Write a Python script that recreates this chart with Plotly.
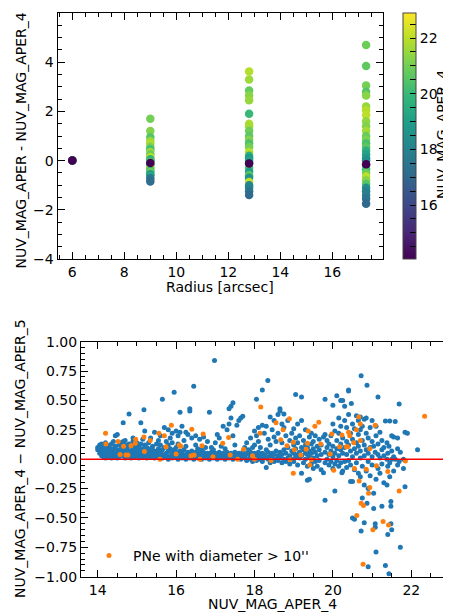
import plotly.graph_objects as go

FONT = "DejaVu Sans"
FS = 14

# ---------------- top panel data ----------------
radii = [6.0, 9.0, 12.8, 17.3]

col6_dy = [0.0, 0.0, 0.0, 0.0, 0.0, 0.0]
col6_mag = [22.9, 21.0, 20.0, 18.5, 17.0, 14.06]

col9_dy = [-0.79, 1.70, 1.20, 0.95, 0.80, 0.70, 0.55, 0.45, 0.35, 0.25, 0.15, 0.05, 0.00,
           -0.05, -0.15, -0.25, -0.30, -0.40, -0.45, -0.55, -0.60, -0.72, -0.85, -0.10]
col9_mag = [22.9, 21.0, 21.2, 20.5, 21.5, 21.8, 21.0, 20.2, 21.6, 20.8, 21.9, 20.0, 19.5,
            20.6, 19.0, 20.3, 21.7, 19.8, 20.9, 18.5, 19.3, 17.5, 17.2, 14.06]

col12_dy = [3.62, 3.30, 2.85, 2.65, 2.45, 1.90, 1.50, 1.40, 1.20, 1.00, 0.85, 0.70, 0.55,
            0.35, 0.20, 0.10, 0.00, -0.10, -0.30, -0.45, -0.60, -0.70, -0.87, -1.00, -1.10,
            -1.25, -1.40, -0.12]
col12_mag = [21.9, 21.6, 20.8, 21.3, 21.5, 20.0, 21.8, 21.7, 20.9, 20.6, 21.2, 20.4, 21.0,
             21.9, 19.6, 18.8, 19.2, 18.3, 20.3, 19.0, 20.6, 18.6, 22.1, 18.2, 18.0,
             17.5, 17.1, 14.06]

col17_dy = [4.70, 3.85, 3.05, 2.80, 2.65, 2.20, 2.05, 1.85, 1.60, 1.40, 1.20, 1.00, 0.85,
            0.70, 0.55, 0.40, 0.25, 0.10, 0.00, -0.20, -0.35, -0.50, -0.65, -0.80, -0.95,
            -1.10, -1.25, -1.40, -1.55, -1.75, -0.15]
col17_mag = [20.9, 20.7, 21.0, 20.5, 21.3, 21.5, 21.9, 22.0, 21.4, 21.2, 21.7, 20.8, 21.1,
             20.3, 20.6, 19.6, 19.1, 18.8, 18.4, 19.9, 20.2, 20.9, 22.0, 21.3, 20.5,
             18.4, 18.0, 17.8, 17.4, 17.0, 14.06]

cbar_tickvals = [14.5, 15, 15.5, 16, 16.5, 17, 17.5, 18, 18.5, 19, 19.5, 20, 20.5, 21,
                 21.5, 22, 22.5]
cbar_ticktext = ["", "", "", "16", "", "", "", "18", "", "", "", "20", "", "", "", "22", ""]

# ---------------- bottom panel data ----------------
# rows: [NUV_MAG_APER_4, dmag values...]
blue_rows = [
    [14.00, 0.10, 0.08], [14.05, 0.05, 0.12, 0.09], [14.10, 0.03, 0.07, 0.13, 0.10],
    [14.15, 0.02, 0.06, 0.11], [14.20, 0.04, 0.09, 0.01, 0.14], [14.25, 0.03, 0.07, 0.12],
    [14.30, 0.02, 0.05, 0.10, 0.08], [14.35, 0.04, 0.13, 0.01], [14.40, 0.06, 0.09, 0.02, 0.15],
    [14.45, 0.03, 0.11, 0.20], [14.50, 0.05, 0.08, 0.01, 0.21], [14.55, 0.02, 0.12, 0.07],
    [14.60, 0.04, 0.09, 0.14], [14.65, 0.03, 0.06, 0.15, 0.31], [14.70, 0.01, 0.08, 0.12, 0.16],
    [14.75, 0.05, 0.10, 0.02], [14.80, 0.03, 0.07, 0.13, 0.385], [14.85, 0.06, 0.11, 0.01],
    [14.90, 0.04, 0.09, 0.15, 0.18], [14.95, 0.02, 0.07, 0.12, 0.16], [15.00, 0.03, 0.05, 0.10, 0.14],
    [15.05, 0.01, 0.08, 0.11], [15.10, 0.04, 0.06, 0.13, 0.31], [15.15, 0.02, 0.09, 0.17],
    [15.18, 0.42], [15.20, 0.03, 0.05, 0.12, 0.24], [15.25, 0.01, 0.07, 0.10],
    [15.30, 0.04, 0.09, 0.14], [15.35, 0.02, 0.06, 0.18], [15.40, 0.03, 0.08, 0.11],
    [15.45, 0.01, 0.05, 0.23], [15.50, 0.04, 0.07, 0.13], [15.55, 0.02, 0.09, 0.16],
    [15.60, 0.03, 0.06, 0.12, 0.20], [15.65, 0.01, 0.08, 0.51], [15.70, 0.04, 0.10, 0.27],
    [15.75, 0.02, 0.05, 0.15], [15.80, 0.00, 0.07, 0.12, 0.25], [15.85, 0.03, 0.09, 0.18],
    [15.90, 0.01, 0.05, 0.14, 0.22], [15.95, 0.02, 0.08, 0.57], [16.00, 0.03, 0.06, 0.10, 0.24],
    [16.05, 0.00, 0.04, 0.13, 0.20], [16.10, 0.02, 0.07, 0.23, 0.40], [16.15, 0.01, 0.05, 0.28],
    [16.20, 0.03, 0.08, 0.16], [16.25, 0.00, 0.04, 0.11, 0.23], [16.30, 0.02, 0.06, 0.21],
    [16.35, 0.01, 0.05, 0.43, 0.41], [16.40, 0.03, 0.07, 0.18], [16.45, 0.00, 0.04, 0.62],
    [16.50, 0.02, 0.06, 0.12, 0.20], [16.55, 0.01, 0.03, 0.09], [16.60, 0.02, 0.05, 0.17],
    [16.65, 0.00, 0.04, 0.08], [16.70, 0.02, 0.06, 0.19], [16.75, 0.01, 0.03, 0.10],
    [16.80, 0.02, 0.05, 0.15], [16.85, 0.00, 0.04, 0.40], [16.90, 0.02, 0.06, 0.10],
    [16.95, 0.01, 0.03, 0.08], [16.98, 0.84], [17.00, 0.02, 0.05, 0.14],
    [17.05, 0.00, 0.04, 0.21], [17.10, 0.02, 0.06, 0.18], [17.15, 0.01, 0.03, 0.11],
    [17.20, 0.02, 0.05, 0.28], [17.25, 0.00, 0.04, 0.09], [17.30, 0.02, 0.06, 0.25],
    [17.35, 0.01, 0.03, 0.43, 0.30], [17.40, 0.02, 0.05, 0.45, 0.35], [17.45, 0.00, 0.04, 0.48, 0.20],
    [17.50, 0.02, 0.06, 0.12], [17.55, 0.01, 0.03, 0.29], [17.60, 0.02, 0.05, 0.33],
    [17.65, 0.00, 0.04, 0.35], [17.70, 0.02, 0.06, 0.365], [17.75, 0.01, 0.03, 0.10],
    [17.80, -0.01, 0.05, 0.14], [17.85, 0.00, 0.04, 0.08], [17.90, 0.02, 0.06, 0.18],
    [17.95, -0.02, 0.03, 0.10], [18.00, 0.01, 0.05, 0.12, 0.24], [18.05, -0.01, 0.04, 0.51, 0.20],
    [18.10, 0.02, 0.06, 0.15, 0.27], [18.15, 0.00, 0.03, 0.10], [18.20, -0.02, 0.05, 0.59, 0.29],
    [18.25, 0.01, 0.04, 0.22], [18.30, -0.07, 0.02, 0.08, 0.28], [18.34, 0.67],
    [18.35, 0.00, 0.06, 0.17], [18.40, -0.03, 0.03, 0.12, 0.36], [18.45, 0.01, 0.05, 0.25],
    [18.50, -0.02, 0.04, 0.19, 0.33], [18.55, 0.00, 0.07, 0.15], [18.60, -0.01, 0.03, 0.22, 0.38],
    [18.65, 0.02, 0.06, 0.43, 0.41], [18.70, -0.03, 0.04, 0.14, 0.30], [18.75, 0.00, 0.08, 0.385, 0.27],
    [18.80, -0.02, 0.05, 0.20], [18.85, 0.01, 0.10, 0.33], [18.90, -0.04, 0.03, 0.16],
    [18.95, 0.00, 0.07, 0.22], [19.00, -0.02, 0.05, 0.12, 0.26], [19.05, 0.02, 0.09, 0.55, 0.18],
    [19.10, -0.05, 0.04, 0.14, 0.30], [19.15, 0.01, 0.06, 0.20], [19.20, -0.12, 0.03, 0.10, 0.53, 0.33],
    [19.25, -0.03, 0.08, 0.16], [19.30, 0.00, 0.05, 0.12, 0.25], [19.35, -0.18, -0.06, 0.04, 0.10],
    [19.40, -0.17, 0.02, 0.07, 0.19], [19.45, -0.04, 0.05, 0.13, 0.22], [19.50, -0.08, 0.01, 0.09, 0.15],
    [19.55, -0.02, 0.06, 0.20], [19.60, -0.06, 0.03, 0.11], [19.65, -0.01, 0.08, 0.17],
    [19.70, -0.09, 0.04, 0.12], [19.76, -0.115, 0.19], [19.80, -0.35, -0.03, 0.06, 0.21, 0.51],
    [19.85, 0.00, 0.10, 0.16], [19.90, -0.05, 0.04, 0.13], [19.95, -0.02, 0.07, 0.20],
    [20.00, -0.08, 0.02, 0.11, 0.46, 0.30], [20.05, -0.27, -0.04, 0.05, 0.24],
    [20.10, -0.01, 0.09, 0.16, 0.54], [20.15, -0.06, 0.03, 0.22, 0.35],
    [20.20, -0.03, 0.08, 0.13, 0.50, 0.28], [20.23, -0.115], [20.25, -0.10, 0.05, 0.18, 0.50],
    [20.30, -0.02, 0.10, 0.45, 0.33], [20.35, -0.07, 0.04, 0.15, 0.27],
    [20.40, -0.01, 0.12, 0.59, 0.58, 0.38], [20.45, -0.19, -0.05, 0.07, 0.22], [20.47, 0.475],
    [20.50, -0.50, -0.19, 0.02, 0.17, 0.30], [20.55, -0.51, -0.09, 0.09, 0.26],
    [20.60, -0.03, 0.05, 0.14, 0.37], [20.65, -0.12, 0.11, 0.21, 0.33],
    [20.70, -0.15, 0.01, 0.07, 0.25, 0.36], [20.72, -0.61, 0.71], [20.75, -0.33, -0.06, 0.16, 0.28],
    [20.80, -0.22, 0.03, 0.12, 0.34, -0.54], [20.85, -0.10, 0.08, 0.22, 0.35], [20.87, -0.375, 0.63],
    [20.90, -0.25, -0.02, 0.05, 0.18, -0.915], [20.95, -0.14, 0.10, 0.27],
    [21.00, -0.05, 0.02, 0.15, 0.33], [21.04, -0.42, -0.29, 0.11], [21.08, -0.58, -0.55, 0.06],
    [21.10, -0.79, -0.17, 0.20, 0.28], [21.15, 0.53, -0.08, 0.04, 0.13], [21.20, -0.12, 0.01, 0.23],
    [21.25, -0.40, -0.04, 0.08, 0.16], [21.30, -0.20, 0.03, 0.10], [21.34, -0.905, 0.325],
    [21.38, -0.22, 0.00, 0.14], [21.40, -0.64, -0.06, 0.05], [21.43, -0.975, 0.11],
    [21.45, 0.325, -0.03, -0.15], [21.48, -0.36, -0.40, -0.55], [21.50, -0.60, 0.00, 0.07, 0.20],
    [21.55, 0.19, -0.10, 0.02], [21.59, 0.32, 0.00], [21.65, -0.05, 0.09, 0.18],
    [21.69, 0.47, -0.02], [21.72, -0.75, 0.06], [21.80, 0.00, -0.08], [21.84, -0.235, 0.23],
    [21.90, 0.22], [22.16, 0.08], [22.91, 0.79],
]

pne_points = [
    (14.20, 0.22), (14.21, 0.13), (14.52, 0.15), (14.66, 0.11), (14.57, 0.04), (14.72, 0.035),
    (14.85, 0.115), (14.77, 0.035), (14.97, 0.17), (14.96, 0.135), (15.18, 0.19), (15.19, 0.065),
    (15.34, 0.16), (15.56, 0.22), (15.70, 0.20), (15.88, 0.29), (15.74, 0.105), (15.59, 0.0),
    (16.00, 0.045), (16.08, 0.12), (16.12, 0.11), (16.40, 0.255), (16.38, 0.03), (16.46, 0.035),
    (16.69, 0.215), (16.66, 0.115), (16.61, 0.0), (16.94, 0.02), (17.34, 0.185), (17.19, 0.135),
    (17.38, 0.035), (17.57, 0.0), (17.72, 0.085), (17.95, 0.03), (18.00, 0.0), (18.14, 0.22),
    (18.16, 0.445), (18.42, -0.01), (18.55, 0.31), (18.73, 0.25), (18.67, 0.165), (18.83, 0.115),
    (18.89, 0.345), (18.99, 0.145), (19.02, 0.08), (18.99, -0.12), (18.91, -0.005), (19.18, 0.035),
    (19.32, 0.085), (19.35, 0.135), (19.41, -0.05), (19.45, -0.005), (19.37, 0.24), (19.54, 0.28),
    (19.64, 0.315), (19.69, 0.13), (19.93, 0.045), (19.97, 0.215), (20.02, -0.095), (20.17, 0.105),
    (20.23, 0.205), (20.34, 0.105), (20.38, 0.105), (20.40, 0.23), (20.43, 0.20), (20.53, 0.14),
    (20.55, -0.08), (20.66, 0.36), (20.70, 0.30), (20.60, 0.25), (20.70, 0.16), (20.67, -0.185),
    (20.61, -0.48), (20.72, -0.375), (20.78, -0.395), (20.77, -0.895), (20.94, 0.09), (20.85, -0.085),
    (20.94, -0.24), (20.91, -0.29), (21.08, 0.29), (21.02, -0.60), (21.11, -0.055), (21.28, -0.53),
    (21.40, -0.105), (21.42, -0.56), (21.69, -0.27), (21.85, -0.015), (22.34, 0.365),
]

# ---------------- build figure ----------------
blue_x = [row[0] for row in blue_rows for _ in row[1:]]
blue_y = [v for row in blue_rows for v in row[1:]]
pne_x = [p[0] for p in pne_points]
pne_y = [p[1] for p in pne_points]

all_mags = col6_mag + col9_mag + col12_mag + col17_mag

fig = go.Figure()

for r, dys, mags in zip(radii, [col6_dy, col9_dy, col12_dy, col17_dy],
                        [col6_mag, col9_mag, col12_mag, col17_mag]):
    fig.add_trace(go.Scatter(
        x=[r] * len(dys), y=dys, mode="markers",
        marker=dict(size=8.5, color=mags, coloraxis="coloraxis", line=dict(width=0)),
        showlegend=False, xaxis="x", yaxis="y", hoverinfo="skip"))

fig.add_trace(go.Scatter(
    x=blue_x, y=blue_y, mode="markers",
    marker=dict(size=5, color="#1f77b4", line=dict(width=0)),
    showlegend=False, xaxis="x2", yaxis="y2", cliponaxis=False))

fig.add_trace(go.Scatter(
    x=pne_x, y=pne_y, mode="markers", name="PNe with diameter > 10''",
    marker=dict(size=5, color="#ff7f0e", line=dict(width=0)),
    showlegend=True, xaxis="x2", yaxis="y2"))


def axis(**kw):
    d = dict(showline=True, linecolor="black", linewidth=1, mirror="ticks",
             ticks="inside", ticklen=7, tickwidth=1, tickcolor="black",
             showgrid=False, zeroline=False, automargin=False,
             tickfont=dict(family=FONT, size=FS, color="black"))
    d.update(kw)
    return d


def minor(dt):
    return dict(dtick=dt, ticks="inside", ticklen=4, tickwidth=1, tickcolor="black",
                showgrid=False)


# the page body has an 8px margin, so the figure starts at (8, 8) in the window
OFF = 8
W, H = 451 - OFF, 616 - OFF


def px(x):
    return (x - OFF) / W


def py(y):
    return 1 - (y - OFF) / H


fig.update_layout(
    template="none",
    width=W, height=H,
    margin=dict(l=0, r=0, t=0, b=0, pad=0),
    paper_bgcolor="white", plot_bgcolor="white",
    font=dict(family=FONT, size=FS, color="black"),
    xaxis=axis(domain=[px(57.5), px(383)], range=[5.43, 17.95], tick0=0, dtick=2,
               anchor="y", minor=minor(0.5)),
    yaxis=axis(domain=[py(259), py(13)], range=[-4, 6], tick0=0, dtick=2,
               anchor="x", minor=minor(0.5)),
    xaxis2=axis(domain=[px(81), 1.0], range=[13.574, 23.013], tick0=0, dtick=2,
                anchor="y2", minor=minor(0.5)),
    yaxis2=axis(domain=[py(576.7), py(341.7)], range=[-1, 1], tick0=0, dtick=0.25,
                tickformat=".2f", anchor="x2", minor=minor(0.05)),
    coloraxis=dict(
        colorscale="Viridis", cmin=min(all_mags), cmax=max(all_mags),
        colorbar=dict(
            x=px(403), xanchor="left", y=py(259), yanchor="bottom",
            len=246 / H, lenmode="fraction", thickness=12.5, thicknessmode="pixels",
            xpad=0, ypad=0, outlinewidth=1, outlinecolor="#444",
            ticks="inside", ticklen=6, tickwidth=1, tickcolor="black",
            tickvals=cbar_tickvals, ticktext=cbar_ticktext,
            tickfont=dict(family=FONT, size=FS, color="black"))),
    legend=dict(x=px(85), y=py(556), xanchor="left", yanchor="middle",
                bgcolor="rgba(0,0,0,0)", borderwidth=0, itemwidth=38,
                font=dict(family=FONT, size=FS, color="black")),
    shapes=[dict(type="line", xref="x2 domain", x0=0, x1=1, yref="y2", y0=0, y1=0,
                 line=dict(color="red", width=1.5), layer="above")],
    annotations=[
        dict(text="Radius [arcsec]", x=px(220), y=py(287), xref="paper", yref="paper",
             showarrow=False, xanchor="center", yanchor="middle", font=dict(size=FS)),
        dict(text="NUV_MAG_APER - NUV_MAG_APER_4", x=px(20), y=py(140.5),
             xref="paper", yref="paper", showarrow=False, textangle=-90,
             xanchor="center", yanchor="middle", font=dict(size=FS)),
        dict(text="NUV_MAG_APER_4", x=px(442), y=py(135), xref="paper", yref="paper",
             showarrow=False, textangle=-90, xanchor="center", yanchor="middle",
             font=dict(size=FS)),
        dict(text="NUV_MAG_APER_4 \u2212 NUV_MAG_APER_5", x=px(20), y=py(459),
             xref="paper", yref="paper", showarrow=False, textangle=-90,
             xanchor="center", yanchor="middle", font=dict(size=FS)),
        dict(text="NUV_MAG_APER_4", x=px(272.5), y=py(604), xref="paper", yref="paper",
             showarrow=False, xanchor="center", yanchor="middle", font=dict(size=FS)),
    ],
)

fig.write_html("out.html")
